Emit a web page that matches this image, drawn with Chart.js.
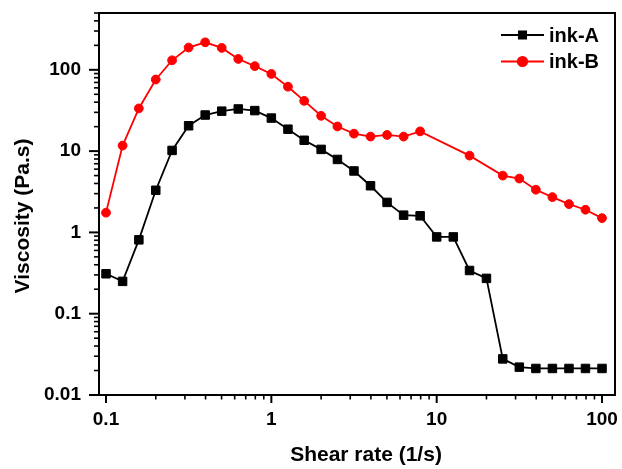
<!DOCTYPE html>
<html><head><meta charset="utf-8">
<script src="https://cdn.jsdelivr.net/npm/chart.js@4.4.1/dist/chart.umd.min.js"></script>
<style>html,body{margin:0;padding:0;background:#fff;}#wrap{width:622px;height:469px;position:relative;}canvas{display:block;}</style>
</head><body><div id="wrap"><canvas id="c" width="622" height="469"></canvas></div>
<script>
// ---- data ----
const shearRateA = [0.1,0.126,0.158,0.2,0.251,0.316,0.398,0.501,0.631,0.794,1,1.26,1.58,2,2.51,3.16,3.98,5.01,6.31,7.94,10,12.6,15.8,20,25.1,31.6,39.8,50.1,63.1,79.4,100];
const viscosityA = [0.31,0.25,0.81,3.3,10.2,20.5,27.8,31,33,31.5,25.5,18.6,13.6,10.5,7.9,5.7,3.75,2.34,1.63,1.6,0.88,0.88,0.34,0.272,0.0278,0.022,0.0212,0.0212,0.0212,0.0212,0.0212];
const shearRateB = [0.1,0.126,0.158,0.2,0.251,0.316,0.398,0.501,0.631,0.794,1,1.26,1.58,2,2.51,3.16,3.98,5.01,6.31,7.94,15.8,25.1,31.6,39.8,50.1,63.1,79.4,100];
const viscosityB = [1.75,11.7,33.5,76,131,188,218,186,136,111,89,62,41.5,27.2,20.1,16.4,15.1,15.8,15.1,17.5,8.8,5.0,4.6,3.35,2.72,2.23,1.9,1.5];
const seriesNames = ['ink-A','ink-B'];
const xMajorTicks = [0.1,1,10,100];
const xTickLabels = ['0.1','1','10','100'];
const yMajorTicks = [0.01,0.1,1,10,100];
const yTickLabels = ['0.01','0.1','1','10','100'];
const xTitle = 'Shear rate (1/s)';
const yTitle = 'Viscosity (Pa.s)';
const xRange = [0.0907, 119.8];
const yRange = [0.01, 500];

const FONT = '"Liberation Sans", Arial, sans-serif';

function buildTicks(majors, max){
  const out = [];
  majors.forEach(d => {
    out.push({value:d, major:true});
    for (let m = 2; m <= 9; m++) { const v = m*d; if (v <= max*1.0001) out.push({value:v, major:false}); }
  });
  return out.sort((a,b)=>a.value-b.value);
}
function labelFor(v, majors, labels){
  for (let i=0;i<majors.length;i++){ if (Math.abs(v/majors[i]-1) < 1e-6) return labels[i]; }
  return '';
}
function noPad(s){ s.paddingTop = 0; s.paddingBottom = 0; s.paddingLeft = 0; s.paddingRight = 0; }

const tickPlugin = {
  id:'frameTicks',
  beforeDatasetsDraw(chart){
    const {ctx, chartArea:a, scales:{x, y}} = chart;
    ctx.save();
    ctx.strokeStyle = '#000';
    ctx.lineWidth = 2;
    ctx.strokeRect(a.left, a.top, a.right - a.left, a.bottom - a.top);
    x.ticks.forEach(t => {
      const px = x.getPixelForValue(t.value);
      ctx.lineWidth = t.major ? 2 : 1.6;
      ctx.beginPath(); ctx.moveTo(px, a.bottom); ctx.lineTo(px, a.bottom + (t.major ? 8 : 4.5)); ctx.stroke();
    });
    y.ticks.forEach(t => {
      const py = y.getPixelForValue(t.value);
      ctx.lineWidth = t.major ? 2 : 1.6;
      ctx.beginPath(); ctx.moveTo(a.left, py); ctx.lineTo(a.left - (t.major ? 10 : 5), py); ctx.stroke();
    });
    ctx.restore();
  }
};

const legendPlugin = {
  id:'insideLegend',
  afterDraw(chart){
    const {ctx, chartArea:a} = chart;
    ctx.save();
    chart.data.datasets.forEach((ds, i) => {
      const yy = a.top + 22 + i*26.5;
      const x0 = a.right - 114, x1 = a.right - 71;
      ctx.strokeStyle = ds.borderColor; ctx.lineWidth = 2;
      ctx.beginPath(); ctx.moveTo(x0, yy); ctx.lineTo(x1, yy); ctx.stroke();
      ctx.fillStyle = ds.backgroundColor; ctx.strokeStyle = ds.borderColor;
      Chart.helpers.drawPoint(ctx, {pointStyle: ds.pointStyle, radius: ds.pointStyle==='rect' ? 5 : 4.6, borderWidth: 1, rotation: 0}, (x0+x1)/2, yy);
      ctx.fillStyle = '#000';
      ctx.font = 'bold 20px ' + FONT;
      ctx.textAlign = 'left'; ctx.textBaseline = 'middle';
      ctx.fillText(ds.label, a.right - 66, yy + 1);
    });
    ctx.restore();
  }
};

const titlePlugin = {
  id:'axisTitles',
  afterDraw(chart){
    const {ctx, chartArea:a} = chart;
    ctx.save();
    ctx.fillStyle = '#000';
    ctx.font = 'bold 21px ' + FONT;
    ctx.textAlign = 'center'; ctx.textBaseline = 'middle';
    ctx.fillText(xTitle, (a.left + a.right)/2 + 9, a.bottom + 60);
    ctx.translate(23, (a.top + a.bottom)/2 + 12);
    ctx.rotate(-Math.PI/2);
    ctx.fillText(yTitle, 0, 0);
    ctx.restore();
  }
};

const tickFont = {family: FONT, size: 19, weight: 'bold'};

new Chart(document.getElementById('c'), {
  type:'line',
  data:{
    datasets:[
      {label: seriesNames[0], data: shearRateA.map((v,i)=>({x:v, y:viscosityA[i]})),
       borderColor:'#000000', backgroundColor:'#000000', borderWidth:1.8,
       pointStyle:'rect', pointRadius:6, pointBorderWidth:1, tension:0},
      {label: seriesNames[1], data: shearRateB.map((v,i)=>({x:v, y:viscosityB[i]})),
       borderColor:'#ff0000', backgroundColor:'#ff0000', borderWidth:1.8,
       pointStyle:'circle', pointRadius:4.4, pointBorderWidth:1, tension:0}
    ]
  },
  options:{
    responsive:false,
    animation:false,
    devicePixelRatio:1,
    layout:{padding:{top:13, right:5, left:0, bottom:0}},
    plugins:{legend:{display:false}, tooltip:{enabled:false}},
    scales:{
      x:{
        type:'logarithmic', position:'bottom', min:xRange[0], max:xRange[1],
        grid:{display:false, drawTicks:false}, border:{display:false},
        afterBuildTicks: s => { s.ticks = buildTicks(xMajorTicks, xRange[1]); },
        ticks:{autoSkip:false, maxRotation:0, minRotation:0, padding:13, color:'#000', font:tickFont,
          callback: v => labelFor(v, xMajorTicks, xTickLabels)},
        afterFit: s => { s.height = 74; noPad(s); }
      },
      y:{
        type:'logarithmic', position:'left', min:yRange[0], max:yRange[1],
        grid:{display:false, drawTicks:false}, border:{display:false},
        afterBuildTicks: s => { s.ticks = buildTicks(yMajorTicks, yRange[1]); },
        ticks:{autoSkip:false, padding:18, color:'#000', font:tickFont,
          callback: v => labelFor(v, yMajorTicks, yTickLabels)},
        afterFit: s => { s.width = 99; noPad(s); }
      }
    }
  },
  plugins:[tickPlugin, legendPlugin, titlePlugin]
});
</script>
</body></html>
